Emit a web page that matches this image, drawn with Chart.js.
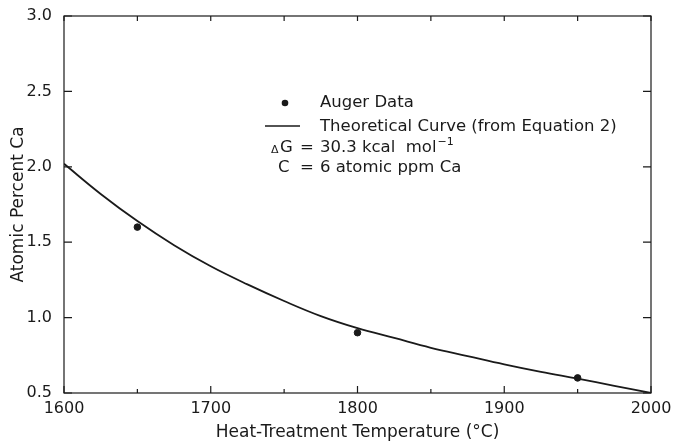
<!DOCTYPE html>
<html>
<head>
<meta charset="utf-8">
<script src="https://cdn.jsdelivr.net/npm/chart.js@4.4.0/dist/chart.umd.min.js"></script>
<style>
  html, body { margin: 0; padding: 0; background: #fff; }
  #wrap { width: 674px; height: 443px; }
</style>
</head>
<body>
<div id="wrap"><canvas id="my-chart"></canvas></div>
<script>
// values
const curveTemps = [1600, 1625, 1650, 1675, 1700, 1725, 1750, 1775, 1800, 1825, 1850, 1875, 1900, 1925, 1950, 1975, 2000];
const curveValues = [2.02, 1.82, 1.64, 1.48, 1.34, 1.22, 1.11, 1.01, 0.93, 0.865, 0.80, 0.745, 0.69, 0.64, 0.595, 0.548, 0.50];
const augerTemps = [1650, 1800, 1950];
const augerValues = [1.6, 0.9, 0.6];
const xTicks = [1600, 1700, 1800, 1900, 2000];
const yTicks = [0.5, 1.0, 1.5, 2.0, 2.5, 3.0];

const ink = '#1a1a1a';
const font = 'DejaVu Sans';

// frame + inward ticks + text legend
const framePlugin = {
    id: 'frame',
    afterDraw(chart) {
        const ctx = chart.ctx;
        const a = chart.chartArea;
        const xs = chart.scales.x, ys = chart.scales.y;
        ctx.save();
        ctx.strokeStyle = ink;
        ctx.lineWidth = 1.2;
        ctx.strokeRect(a.left, a.top, a.right - a.left, a.bottom - a.top);

        ctx.beginPath();
        for (let t = xs.min; t <= xs.max; t += 50) {
            const px = xs.getPixelForValue(t);
            const len = (t % 100 === 0) ? 7 : 4;
            ctx.moveTo(px, a.bottom); ctx.lineTo(px, a.bottom - len);
            ctx.moveTo(px, a.top); ctx.lineTo(px, a.top + 5);
        }
        yTicks.forEach(v => {
            const py = ys.getPixelForValue(v);
            ctx.moveTo(a.left, py); ctx.lineTo(a.left + 8, py);
            ctx.moveTo(a.right, py); ctx.lineTo(a.right - 8, py);
        });
        ctx.stroke();

        // legend text
        const lx = a.left + 256;
        ctx.fillStyle = ink;
        ctx.font = '16.5px "' + font + '"';
        ctx.textBaseline = 'middle';
        ctx.beginPath();
        ctx.arc(a.left + 221, a.top + 87, 3.3, 0, Math.PI * 2);
        ctx.fill();
        ctx.fillText('Auger Data', lx, a.top + 87);

        ctx.lineWidth = 1.6;
        ctx.beginPath();
        ctx.moveTo(a.left + 201, a.top + 110);
        ctx.lineTo(a.left + 236, a.top + 110);
        ctx.stroke();
        ctx.fillText('Theoretical Curve (from Equation 2)', lx, a.top + 111);

        ctx.font = '11px "' + font + '"';
        ctx.fillText('\u0394', a.left + 207, a.top + 134);
        ctx.font = '16.5px "' + font + '"';
        ctx.fillText('G', a.left + 216, a.top + 132);
        ctx.fillText('=', a.left + 236, a.top + 132);
        ctx.fillText('30.3 kcal  mol', lx, a.top + 132);
        const w = ctx.measureText('30.3 kcal  mol').width;
        ctx.font = '11px "' + font + '"';
        ctx.fillText('\u22121', lx + w + 1, a.top + 126);
        ctx.font = '16.5px "' + font + '"';
        ctx.fillText('C', a.left + 214, a.top + 152);
        ctx.fillText('=', a.left + 236, a.top + 152);
        ctx.fillText('6 atomic ppm Ca', lx, a.top + 152);
        ctx.restore();
    }
};

const ctx = document.getElementById('my-chart').getContext('2d');

const chart = new Chart(ctx, {
    type: 'scatter',
    data: {
        datasets: [{
            label: 'Theoretical Curve (from Equation 2)',
            data: curveTemps.map((t, i) => ({ x: t, y: curveValues[i] })),
            showLine: true,
            borderColor: ink,
            borderWidth: 1.8,
            pointRadius: 0,
            tension: 0.4,
            fill: false
        }, {
            label: 'Auger Data',
            data: augerTemps.map((t, i) => ({ x: t, y: augerValues[i] })),
            backgroundColor: ink,
            borderColor: ink,
            pointRadius: 3.3,
            showLine: false
        }]
    },
    options: {
        responsive: true,
        maintainAspectRatio: false,
        animation: false,
        layout: { padding: { top: 16, right: 23, left: 0, bottom: 0 } },
        plugins: {
            legend: { display: false },
            tooltip: { enabled: false }
        },
        scales: {
            x: {
                type: 'linear',
                min: 1600,
                max: 2000,
                afterBuildTicks: s => { s.ticks = xTicks.map(v => ({ value: v })); },
                afterFit: s => { s.height = 50; s.paddingLeft = 0; s.paddingRight = 0; },
                grid: { display: false, drawTicks: false },
                border: { display: false },
                ticks: { color: ink, font: { family: font, size: 16 }, padding: 6, callback: v => String(v) },
                title: {
                    display: true,
                    text: 'Heat-Treatment Temperature (\u00B0C)',
                    color: ink,
                    font: { family: font, size: 17 },
                    padding: { top: 0, bottom: 0 }
                }
            },
            y: {
                min: 0.5,
                max: 3.0,
                afterBuildTicks: s => { s.ticks = yTicks.map(v => ({ value: v })); },
                afterFit: s => { s.width = 64; s.paddingTop = 0; s.paddingBottom = 0; },
                grid: { display: false, drawTicks: false },
                border: { display: false },
                ticks: {
                    color: ink,
                    font: { family: font, size: 16 },
                    padding: 12,
                    callback: v => v.toFixed(1)
                },
                title: {
                    display: true,
                    text: 'Atomic Percent Ca',
                    color: ink,
                    font: { family: font, size: 17 },
                    padding: { top: 8, bottom: 0 }
                }
            }
        }
    },
    plugins: [framePlugin]
});
</script>
</body>
</html>
